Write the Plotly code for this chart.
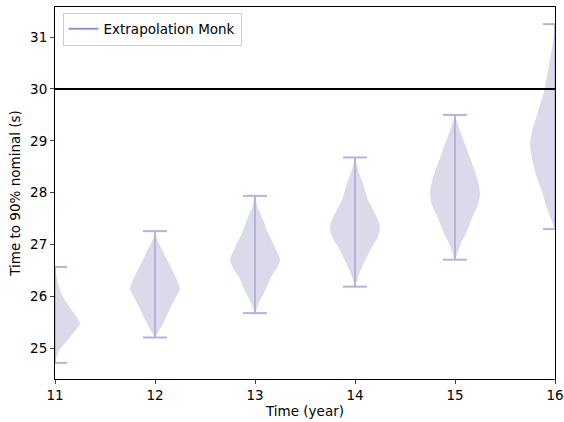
import plotly.graph_objects as go

# ---- data ----
years = [11, 12, 13, 14, 15, 16]
mins = [24.72, 25.21, 25.68, 26.19, 26.71, 27.30]
maxs = [26.57, 27.26, 27.94, 28.68, 29.50, 31.25]

# density profiles: y levels (interior) and half-widths (in x units)
prof_y = [
    [24.83, 24.96, 25.10, 25.29, 25.48, 25.73, 25.99, 26.25],
    [25.31, 25.44, 25.64, 25.80, 25.99, 26.14, 26.32, 26.48, 26.67, 26.87, 27.06],
    [25.84, 26.00, 26.19, 26.38, 26.55, 26.72, 26.86, 27.03, 27.22, 27.48, 27.70],
    [26.38, 26.57, 26.77, 26.96, 27.15, 27.34, 27.48, 27.64, 27.86, 28.18, 28.44],
    [26.87, 27.07, 27.26, 27.51, 27.77, 27.99, 28.22, 28.41, 28.67, 28.99, 29.25],
    [27.44, 27.70, 28.02, 28.34, 28.66, 28.92, 29.18, 29.50, 29.95, 30.46, 30.91],
]
prof_w = [
    [0.015, 0.04, 0.10, 0.18, 0.25, 0.17, 0.08, 0.03],
    [0.03, 0.07, 0.12, 0.16, 0.21, 0.25, 0.22, 0.18, 0.13, 0.08, 0.03],
    [0.03, 0.07, 0.12, 0.16, 0.22, 0.25, 0.22, 0.18, 0.13, 0.08, 0.03],
    [0.03, 0.07, 0.12, 0.17, 0.23, 0.25, 0.23, 0.19, 0.13, 0.08, 0.03],
    [0.03, 0.07, 0.12, 0.17, 0.23, 0.25, 0.23, 0.20, 0.15, 0.09, 0.04],
    [0.03, 0.08, 0.13, 0.19, 0.23, 0.25, 0.23, 0.18, 0.11, 0.06, 0.02],
]
threshold = 30
series_name = "Extrapolation Monk"
x_ticks = [11, 12, 13, 14, 15, 16]
y_ticks = [25, 26, 27, 28, 29, 30, 31]

# ---- styles ----
FILL = "#dadaea"
LINE = "#b5b3dc"
LEG = "#9793c9"
CAP = 0.12
FONT = "DejaVu Sans"
FS = 13.5

fig = go.Figure()

for i, yr in enumerate(years):
    ys = [mins[i]] + prof_y[i] + [maxs[i]]
    ws = [0.0] + prof_w[i] + [0.0]
    px = [yr + w for w in ws] + [yr - w for w in reversed(ws)]
    py = ys + list(reversed(ys))
    fig.add_trace(go.Scatter(x=px, y=py, mode="lines", fill="toself",
                             fillcolor=FILL, line=dict(width=0, color=FILL, shape="spline", smoothing=0.6),
                             hoverinfo="skip", showlegend=False))

for i, yr in enumerate(years):
    fig.add_trace(go.Scatter(
        x=[yr, yr, None, yr - CAP, yr + CAP, None, yr - CAP, yr + CAP],
        y=[mins[i], maxs[i], None, mins[i], mins[i], None, maxs[i], maxs[i]],
        mode="lines", line=dict(color=LINE, width=2), hoverinfo="skip", showlegend=False))

fig.add_trace(go.Scatter(x=[None], y=[None], mode="lines", name=series_name,
                         line=dict(color=LEG, width=2)))

fig.add_shape(type="line", xref="paper", x0=0, x1=1, yref="y", y0=threshold, y1=threshold,
              line=dict(color="black", width=2))

fig.update_layout(
    width=564, height=422,
    margin=dict(l=55, r=9, t=7, b=43),
    paper_bgcolor="white", plot_bgcolor="white",
    font=dict(family=FONT, size=FS, color="black"),
    legend=dict(x=0.015, y=0.985, xanchor="left", yanchor="top",
                bordercolor="#cccccc", borderwidth=1, bgcolor="rgba(255,255,255,0.8)",
                font=dict(size=FS)),
    xaxis=dict(range=[11, 16], tickvals=x_ticks, ticks="outside", ticklen=4,
               tickfont=dict(size=FS), automargin=False,
               showline=True, linecolor="black", linewidth=1, mirror=True,
               showgrid=False, zeroline=False,
               title=dict(text="Time (year)", standoff=4, font=dict(size=FS))),
    yaxis=dict(range=[24.41, 31.58], tickvals=y_ticks, ticks="outside", ticklen=4,
               tickfont=dict(size=FS), automargin=False,
               showline=True, linecolor="black", linewidth=1, mirror=True,
               showgrid=False, zeroline=False,
               title=dict(text="Time to 90% nominal (s)", standoff=6, font=dict(size=FS))),
)

fig.write_html(
    "out.html",
    config={"displayModeBar": False},
    post_script="document.body.style.margin='0';document.body.style.overflow='hidden';document.documentElement.style.overflow='hidden';",
)
